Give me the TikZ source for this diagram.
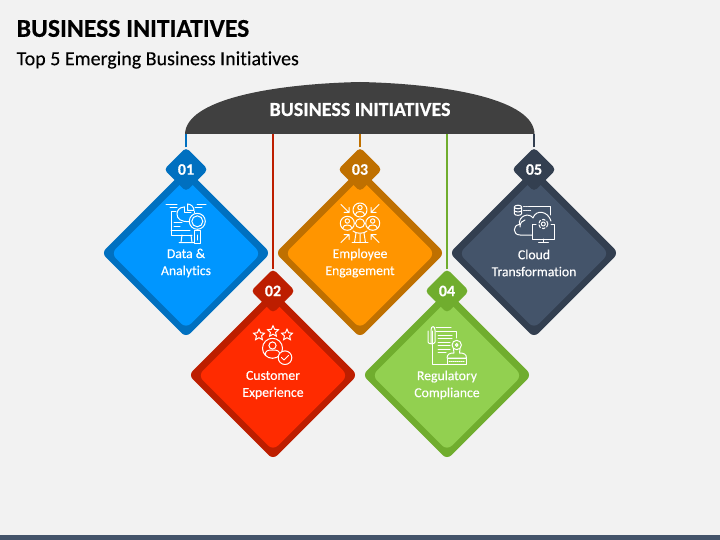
\documentclass[tikz,border=0pt]{standalone}
\usepackage{fontspec}
\setmainfont[Ligatures=NoCommon, FakeBold=0.2, BoldFeatures={FakeBold=0.35}]{Carlito}
\usetikzlibrary{shapes.geometric}
\definecolor{pagebg}{HTML}{F2F2F2}
\definecolor{domegray}{HTML}{404040}
\definecolor{bluedark}{HTML}{0070C0}
\definecolor{bluelight}{HTML}{0096FF}
\definecolor{reddark}{HTML}{BD1E00}
\definecolor{redlight}{HTML}{FF2B00}
\definecolor{orangedark}{HTML}{BF7000}
\definecolor{orangelight}{HTML}{FF9500}
\definecolor{greendark}{HTML}{70AD2E}
\definecolor{greenlight}{HTML}{92D050}
\definecolor{slatedark}{HTML}{333F50}
\definecolor{slatelight}{HTML}{44546A}
\tikzset{
  cardout/.style={diamond, inner sep=0pt, outer sep=0pt, minimum width=169pt, minimum height=169pt, rounded corners=6pt},
  cardin/.style={diamond, inner sep=0pt, outer sep=0pt, minimum width=150pt, minimum height=150pt, rounded corners=7pt},
  tagbox/.style={diamond, inner sep=0pt, outer sep=0pt, minimum width=44pt, minimum height=44pt, rounded corners=4pt, text=white, font=\bfseries\fontsize{16}{18}\selectfont},
  cardlabel/.style={align=center, text=white, inner sep=0pt, font=\fontsize{13.7}{17}\selectfont},
  linkline/.style={line width=2.2pt},
  iconline/.style={draw=white, line width=1pt, line cap=round, line join=round},
  starmark/.style={star, star points=5, star point ratio=2.1, draw=white, line width=1pt, inner sep=0pt, minimum size=11.5pt}
}
\begin{document}
\begin{tikzpicture}[x=1pt, y=-1pt]
        \useasboundingbox (0,0) rectangle (720,540);
        \fill[pagebg] (0,0) rectangle (720,540);
        \fill[slatelight] (0,535) rectangle (720,540);

        \node[anchor=west, inner sep=0pt, font=\bfseries\fontsize{25.7}{28}\selectfont] (title) at (16.5,28.5) {BUSINESS INITIATIVES};
        \node[anchor=west, inner sep=0pt, font=\fontsize{20}{24}\selectfont] (subtitle) at (16.5,60) {Top 5 Emerging Business Initiatives};

        \fill[domegray] (185,134) .. controls (186,100) and (270,84) .. (360,82) .. controls (450,84) and (534,100) .. (534.5,134) -- cycle;
        \node[inner sep=0pt, minimum width=349.5pt, minimum height=52pt, text=white, font=\bfseries\fontsize{20}{24}\selectfont] (dome) at (360,108) {\raisebox{-8pt}[0pt][0pt]{BUSINESS INITIATIVES}};

        \node[cardout, fill=bluedark] (card1) at (186,253) {};
        \node[cardin, fill=bluelight] (inner1) at (186,253.5) {};
        \node[tagbox, fill=bluedark] (tag1) at (186,169.5) {01};
        \node[cardout, fill=orangedark] (card3) at (360,253) {};
        \node[cardin, fill=orangelight] (inner3) at (360,253.5) {};
        \node[tagbox, fill=orangedark] (tag3) at (360,169.5) {03};
        \node[cardout, fill=slatedark] (card5) at (534,253) {};
        \node[cardin, fill=slatelight] (inner5) at (534,253.5) {};
        \node[tagbox, fill=slatedark] (tag5) at (534,169.5) {05};
        \node[cardout, fill=reddark] (card2) at (273,375) {};
        \node[cardin, fill=redlight] (inner2) at (273,375.5) {};
        \node[tagbox, fill=reddark] (tag2) at (273,291) {02};
        \node[cardout, fill=greendark] (card4) at (447,375) {};
        \node[cardin, fill=greenlight] (inner4) at (447,375.5) {};
        \node[tagbox, fill=greendark] (tag4) at (447,291) {04};

        \draw[linkline, bluedark] (tag1.north) -- (tag1.north |- dome.south);
        \draw[linkline, reddark] (tag2.north) -- (tag2.north |- dome.south);
        \draw[linkline, orangedark] (tag3.north) -- (tag3.north |- dome.south);
        \draw[linkline, greendark] (tag4.north) -- (tag4.north |- dome.south);
        \draw[linkline, slatedark] (tag5.north) -- (tag5.north |- dome.south);

        \node[cardlabel] (label1) at (186,263) {Data \&\\Analytics};
        \node[cardlabel] (label2) at (273,385) {Customer\\Experience};
        \node[cardlabel] (label3) at (360,263) {Employee\\Engagement};
        \node[cardlabel] (label4) at (447,385) {Regulatory\\Compliance};
        \node[cardlabel] (label5) at (534,263) {Cloud\\Transformation};

        \draw[iconline] (166,205) -- (177,205) (170,208) -- (177,208);
        \draw[iconline] (195,208) -- (202,208) (197,205) -- (206,205);
        \draw[iconline] (176,211.5) -- (171,211.5) -- (171,235) -- (192,235);
        \draw[iconline] (194,211.5) -- (194,213);
        \draw[iconline] (171,231) -- (190,231);
        \draw[iconline] (174,223) -- (182,223) (174,226.5) -- (180,226.5);
        \draw[iconline] (182,235) -- (181,242.5) (191,235) -- (192,242.5) (179,242.5) -- (194,242.5);
        \draw[iconline] (187.5,204) -- (187.5,210.5) -- (194,210.5) .. controls (194,207) and (191,204) .. (187.5,204);
        \draw[iconline] (184.5,207) .. controls (179,207) and (177,211) .. (177,214) .. controls (177,219) and (181,222) .. (189,221.5);
        \draw[iconline] (184.5,207) -- (184.5,213) -- (191,213);
        \fill[bluelight] (197.3,221.3) circle (8pt);
        \draw[iconline] (197.3,221.3) circle (8pt);
        \draw[iconline] (197.3,221.3) circle (5.5pt);
        \draw[iconline] (194.5,231) rectangle (200,243);
        \draw[iconline] (197.2,235) -- (197.2,240);

        \node[starmark] (star1) at (259,335) {};
        \node[starmark] (star2) at (273,331.5) {};
        \node[starmark] (star3) at (287,335) {};
        \draw[iconline] (272.5,348.3) circle (10pt);
        \draw[iconline] (272.5,345.5) circle (3.6pt);
        \draw[iconline] (265.5,355) .. controls (265,350.5) and (268,350) .. (272.5,350) .. controls (277,350) and (280,350.5) .. (279.5,355);
        \fill[redlight] (285,357.7) circle (7pt);
        \draw[iconline] (285,357.7) circle (6.8pt);
        \draw[iconline] (281.5,357.5) -- (284,360) -- (288.5,355.5);

        \draw[iconline] (360,210) circle (7pt);
        \draw[iconline] (347.3,223.3) circle (7pt);
        \draw[iconline] (372.7,223.3) circle (7pt);
        \draw[iconline] (360,223.3) circle (4.5pt);
        \draw[iconline] (360,207.5) circle (2.2pt);
        \draw[iconline] (355.5,214.5) .. controls (355.5,210.5) and (364.5,210.5) .. (364.5,214.5);
        \draw[iconline] (347.3,221) circle (2.2pt);
        \draw[iconline] (342.8,228) .. controls (342.8,224) and (351.8,224) .. (351.8,228);
        \draw[iconline] (372.7,221) circle (2.2pt);
        \draw[iconline] (368.2,228) .. controls (368.2,224) and (377.2,224) .. (377.2,228);
        \draw[iconline] (341,204.5) -- (349,212.5) (349,207.5) -- (349,212.5) -- (344,212.5);
        \draw[iconline] (379,204.5) -- (371,212.5) (371,207.5) -- (371,212.5) -- (376,212.5);
        \draw[iconline] (341,242.5) -- (349,234.5) (349,239.5) -- (349,234.5) -- (344,234.5);
        \draw[iconline] (379,242.5) -- (371,234.5) (371,239.5) -- (371,234.5) -- (376,234.5);
        \draw[iconline] (352,242.7) -- (368,242.7);
        \draw[iconline] (353,231) .. controls (356,234) and (364,234) .. (367,231);
        \draw[iconline] (354.5,242.7) -- (356,233) (365.5,242.7) -- (364,233) (360,242.7) -- (360,234);

        \draw[iconline] (432,331) -- (432,364) -- (462,364);
        \draw[iconline] (436,327.5) -- (451,327.5) (436,331) -- (456,331) -- (456,338);
        \draw[iconline] (431,343) -- (431,330) .. controls (431,325.5) and (435,325.5) .. (435,330) -- (435,342) .. controls (435,344.5) and (428,344.5) .. (428,342) -- (428,331);
        \draw[iconline] (438,335) -- (452,335) (438,338.5) -- (452,338.5) (438,342) -- (450,342) (438,345.5) -- (450,345.5) (438,349) -- (450,349) (438,352.5) -- (446,352.5);
        \draw[iconline] (456.7,345) circle (4.7pt);
        \draw[iconline] (456.7,345) circle (1.4pt);
        \fill[greenlight] (446.8,355.8) rectangle (466.6,364);
        \draw[iconline] (453.5,349) -- (454,353) .. controls (450,353) and (447,354) .. (447,358) -- (466.5,358) .. controls (466.5,354) and (463.5,353) .. (459.5,353) -- (460,349);
        \draw[iconline] (447,358) rectangle (466.5,364);
        \draw[iconline, densely dotted] (449,361) -- (465,361);

        \draw[iconline] (518,207) ellipse (3.7pt and 1.8pt);
        \draw[iconline] (514.3,207) -- (514.3,213.5) .. controls (514.3,216) and (521.7,216) .. (521.7,213.5) -- (521.7,207);
        \draw[iconline] (514.3,210.3) .. controls (514.3,212.5) and (521.7,212.5) .. (521.7,210.3);
        \draw[iconline, densely dotted] (523.5,207) -- (529,207);
        \draw[iconline] (529,207) -- (550,207) -- (550,215);
        \draw[iconline, densely dotted] (523.5,210.7) -- (531,210.7);
        \draw[iconline] (532,235) -- (520,235) .. controls (512.5,235) and (512.5,225) .. (519.5,224.5) .. controls (518,216) and (529,212) .. (533,218) .. controls (536,209) and (548,211) .. (551,221);
        \draw[iconline] (520,227) .. controls (520,222.5) and (522,221) .. (525,220);
        \fill[slatelight] (533,224.5) rectangle (554,239);
        \draw[iconline] (536,224.5) -- (532.7,224.5) -- (532.7,239) -- (554,239) -- (554,224.5) -- (551,224.5);
        \draw[iconline] (543.3,239) -- (543.3,242.7) (538.5,242.7) -- (548.3,242.7);
        \draw[iconline, densely dashed] (543.3,224) circle (4.6pt);
        \draw[iconline] (543.3,224) circle (2pt);
\end{tikzpicture}
\end{document}
